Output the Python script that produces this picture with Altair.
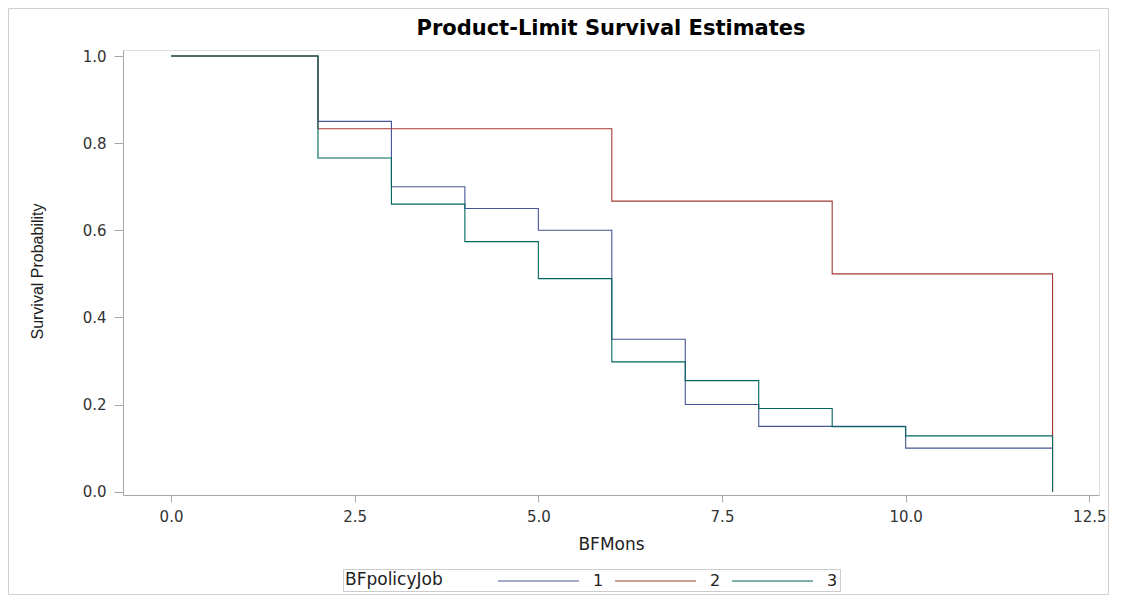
import altair as alt
import pandas as pd

# ---- data ----
months_1 = [0, 2, 3, 4, 5, 6, 7, 8, 10, 12]
surv_1 = [1.0, 0.85, 0.70, 0.65, 0.60, 0.35, 0.20, 0.15, 0.10, 0.10]

months_2 = [0, 2, 6, 9, 12]
surv_2 = [1.0, 0.833, 0.667, 0.50, 0.0]

months_3 = [0, 2, 3, 4, 5, 6, 7, 8, 9, 10, 12]
surv_3 = [1.0, 0.766, 0.660, 0.574, 0.489, 0.298, 0.255, 0.191, 0.149, 0.128, 0.0]

groups = ["1", "2", "3"]
colors = ["#445694", "#A23A2E", "#01665E"]
x_ticks = [0, 2.5, 5, 7.5, 10, 12.5]
y_ticks = [0, 0.2, 0.4, 0.6, 0.8, 1.0]

rows = []
for g, ms, ss in zip(groups, [months_1, months_2, months_3], [surv_1, surv_2, surv_3]):
    for m, s in zip(ms, ss):
        rows.append({"BFpolicyJob": g, "BFMons": m, "Survival": s})
df = pd.DataFrame(rows)

W, H = 976, 445
PAD_L, PAD_T, PAD_R, PAD_B = 115, 42, 10, 100
GRAY = "#a8a8a8"
TXT = "#333333"

lines = alt.Chart(df).mark_line(interpolate="step-after", strokeWidth=1.1, clip=True).encode(
    x=alt.X("BFMons:Q",
            scale=alt.Scale(domain=[-0.654, 12.632], nice=False, zero=False),
            axis=alt.Axis(values=x_ticks, format=".1f", title="BFMons",
                          grid=False, domainColor=GRAY, tickColor=GRAY, tickSize=7,
                          labelPadding=7, labelFont="DejaVu Sans", labelFontSize=15,
                          labelColor=TXT, titleFont="DejaVu Sans", titleFontSize=17,
                          titleFontWeight="normal", titleColor="#222222",
                          titleY=49, titleBaseline="middle")),
    y=alt.Y("Survival:Q",
            scale=alt.Scale(domain=[-0.0076, 1.0138], nice=False, zero=False),
            axis=alt.Axis(values=y_ticks, format=".1f", title="Survival Probability",
                          grid=False, domainColor=GRAY, tickColor=GRAY, tickSize=9,
                          labelPadding=8, labelFont="DejaVu Sans", labelFontSize=15,
                          labelColor=TXT, titleFont="Liberation Sans", titleFontSize=16,
                          titleFontWeight="normal", titleColor="#222222",
                          titleX=-86, titleY=221, titleBaseline="middle",
                          titleAlign="center", titleAngle=270)),
    color=alt.Color("BFpolicyJob:N",
                    scale=alt.Scale(domain=groups, range=colors),
                    legend=alt.Legend(orient="none", legendX=220, legendY=519,
                                      direction="horizontal", titleOrient="left",
                                      symbolType="M-8,0L1,0", symbolSize=324,
                                      symbolStrokeWidth=1.2, symbolFillColor="transparent",
                                      labelFont="DejaVu Sans", labelFontSize=16,
                                      labelColor="#222222", labelOffset=13,
                                      columnPadding=8,
                                      titleFont="DejaVu Sans", titleFontSize=17,
                                      titleFontWeight="normal", titleColor="#222222",
                                      titlePadding=117, padding=2,
                                      strokeColor="#cccccc", fillColor="white")),
)

border = alt.Chart(pd.DataFrame({"a": [0]})).mark_rect(
    fill=None, stroke="#d0d0d0", strokeWidth=1, clip=False
).encode(
    x=alt.value(-PAD_L + 0.5), x2=alt.value(W + PAD_R - 0.5),
    y=alt.value(-PAD_T + 0.5), y2=alt.value(H + PAD_B - 0.5),
)

chart = alt.layer(border, lines).properties(
    width=W, height=H,
    title=alt.TitleParams("Product-Limit Survival Estimates", font="DejaVu Sans",
                          fontSize=21, fontWeight="bold", color="#000000",
                          anchor="middle", frame="group", offset=-31),
    autosize=alt.AutoSizeParams(type="none"),
    padding={"left": PAD_L, "top": PAD_T, "right": PAD_R, "bottom": PAD_B},
).configure_view(stroke=GRAY, strokeWidth=1).configure(background="white")

chart.save("out.html", embed_options={"renderer": "svg", "actions": False})
